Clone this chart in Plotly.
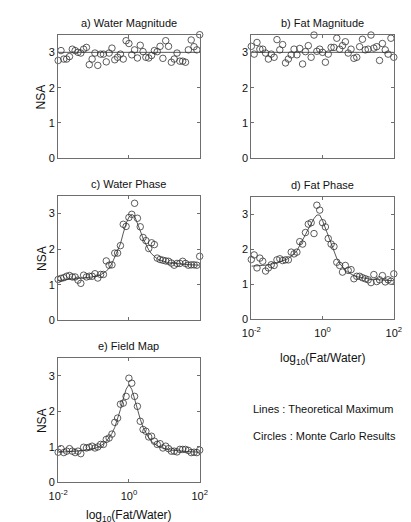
import numpy as np
import plotly.graph_objects as go

# ---- data ----
log_ratio = [round(-2 + 0.08 * i, 2) for i in range(51)]

water_mag_mc = [2.77, 3.05, 2.81, 2.81, 2.88, 3.09, 3.05, 3.0, 2.98, 3.09, 3.14, 2.65, 2.81, 2.98, 2.63,
                2.95, 2.95, 2.73, 2.98, 3.12, 2.79, 2.86, 2.95, 2.81, 3.33, 3.25, 2.93, 3.07, 2.84, 3.2,
                3.02, 2.86, 2.84, 2.91, 3.05, 3.02, 3.17, 2.83, 3.33, 3.17, 2.72, 2.81, 2.98, 2.75, 2.75,
                2.72, 3.07, 3.35, 3.16, 3.07, 3.5]
water_mag_th = [3.0] * 51

fat_mag_mc = [3.17, 2.95, 3.28, 3.09, 3.09, 2.98, 2.81, 2.95, 2.86, 3.36, 3.07, 3.22, 2.7, 2.81, 2.93,
              3.09, 2.93, 3.11, 2.67, 3.02, 3.19, 2.86, 3.49, 3.03, 3.09, 3.0, 2.72, 2.95, 3.14, 3.14,
              3.4, 3.09, 3.19, 3.3, 2.98, 3.09, 2.83, 2.86, 3.16, 3.37, 3.07, 3.09, 3.49, 3.12, 3.16,
              2.77, 3.25, 3.07, 2.95, 3.4, 2.86]
fat_mag_th = [3.0] * 51

water_ph_mc = [1.15, 1.18, 1.2, 1.24, 1.26, 1.22, 1.22, 1.13, 1.04, 1.27, 1.22, 1.24, 1.24, 1.31, 1.19,
               1.29, 1.29, 1.67, 1.55, 1.56, 1.89, 1.89, 2.1, 2.7, 2.64, 2.89, 2.98, 3.29, 2.87, 2.63,
               2.33, 2.24, 2.02, 2.18, 2.13, 1.75, 1.71, 1.69, 1.67, 1.66, 1.61, 1.55, 1.6, 1.6, 1.66,
               1.6, 1.55, 1.56, 1.56, 1.55, 1.8]
water_ph_th = [1.12, 1.13, 1.14, 1.15, 1.16, 1.17, 1.17, 1.18, 1.19, 1.19, 1.2, 1.21, 1.22, 1.23, 1.25,
               1.28, 1.32, 1.38, 1.47, 1.6, 1.78, 1.95, 2.15, 2.45, 2.72, 2.9, 2.98, 2.93, 2.75, 2.52,
               2.3, 2.12, 1.98, 1.87, 1.79, 1.73, 1.69, 1.66, 1.64, 1.62, 1.61, 1.6, 1.59, 1.58, 1.58,
               1.57, 1.57, 1.56, 1.56, 1.56, 1.55]

fat_ph_mc = [1.71, 1.84, 1.47, 1.75, 1.66, 1.38, 1.47, 1.56, 1.54, 1.7, 1.73, 1.68, 1.7, 1.7, 1.92,
             1.87, 1.92, 2.22, 2.15, 2.48, 2.72, 2.76, 2.45, 3.26, 3.12, 2.76, 2.64, 2.31, 2.15, 2.08,
             1.63, 1.54, 1.35, 1.54, 1.4, 1.42, 1.16, 1.23, 1.23, 1.19, 1.16, 1.13, 1.05, 1.28, 1.08,
             1.13, 1.25, 1.07, 1.13, 1.09, 1.3]
fat_ph_th = [1.52, 1.52, 1.53, 1.53, 1.54, 1.55, 1.56, 1.57, 1.59, 1.61, 1.65, 1.67, 1.7, 1.74, 1.8,
             1.87, 1.96, 2.1, 2.25, 2.42, 2.58, 2.73, 2.88, 2.98, 2.98, 2.82, 2.6, 2.38, 2.15, 1.93,
             1.74, 1.6, 1.49, 1.4, 1.34, 1.29, 1.25, 1.22, 1.2, 1.18, 1.17, 1.16, 1.15, 1.14, 1.13,
             1.13, 1.12, 1.12, 1.11, 1.11, 1.1]

field_mc = [0.85, 0.95, 0.84, 0.88, 0.95, 0.88, 0.84, 0.88, 0.81, 0.99, 0.97, 0.99, 1.02, 0.97, 1.0,
            1.07, 1.07, 1.21, 1.25, 1.36, 1.69, 1.81, 2.2, 2.23, 2.42, 2.93, 2.79, 2.42, 2.14, 1.72,
            1.49, 1.44, 1.28, 1.3, 1.16, 1.07, 1.09, 0.97, 1.02, 0.95, 0.88, 0.88, 0.86, 0.93, 0.93,
            0.93, 0.9, 0.84, 0.85, 0.84, 0.91]
field_th = [0.85, 0.85, 0.86, 0.86, 0.87, 0.87, 0.88, 0.88, 0.89, 0.9, 0.91, 0.92, 0.94, 0.96, 0.99,
            1.03, 1.08, 1.15, 1.25, 1.38, 1.55, 1.78, 2.05, 2.35, 2.62, 2.75, 2.62, 2.35, 2.05, 1.78,
            1.55, 1.38, 1.25, 1.15, 1.08, 1.03, 0.99, 0.96, 0.94, 0.92, 0.91, 0.9, 0.89, 0.88, 0.88,
            0.87, 0.87, 0.86, 0.86, 0.85, 0.85]

titles = ["a) Water Magnitude", "b) Fat Magnitude", "c) Water Phase", "d) Fat Phase", "e) Field Map"]
y_ticks = [0, 1, 2, 3]
x_tickvals = [0.01, 1, 100]
x_ticktext = ["10<sup>-2</sup>", "10<sup>0</sup>", "10<sup>2</sup>"]
legend_lines = ["Lines : Theoretical Maximum", "Circles : Monte Carlo Results"]

# ---- layout ----
W, H = 411, 522
def px(v):
    return v / W
def py(v):
    return 1 - v / H

panels = [
    # (axis number, x px range, y px range (top,bottom), mc, th, show y label, show x ticks, xlabel y px)
    (1, (42, 190), (27, 152), water_mag_mc, water_mag_th, True, False, None),
    (2, (244, 393), (27, 152), fat_mag_mc, fat_mag_th, False, False, None),
    (3, (42, 190), (190, 316), water_ph_mc, water_ph_th, True, False, None),
    (4, (244, 393), (191, 315), fat_ph_mc, fat_ph_th, False, True, 355),
    (5, (42, 190), (354, 480), field_mc, field_th, True, True, 514),
]

x_vals = [10 ** v for v in log_ratio]
fig = go.Figure()
axis_col = "#6e6e6e"
font_family = "Liberation Sans, Arial, sans-serif"
annotations = []

for k, (n, xr, yr, mc, th, ylab, xt, xly) in enumerate(panels):
    sfx = "" if n == 1 else str(n)
    fig.add_trace(go.Scatter(x=x_vals, y=th, mode="lines",
                             line=dict(color="#444444", width=0.9),
                             xaxis="x" + sfx, yaxis="y" + sfx, showlegend=False))
    fig.add_trace(go.Scatter(x=x_vals, y=mc, mode="markers",
                             marker=dict(symbol="circle-open", size=6.5,
                                         color="#333333", line=dict(width=0.8, color="#333333")),
                             cliponaxis=False,
                             xaxis="x" + sfx, yaxis="y" + sfx, showlegend=False))
    xa = dict(domain=[px(xr[0]), px(xr[1])], type="log", range=[-2, 2],
              anchor="y" + sfx, showline=True, linecolor=axis_col, linewidth=1,
              mirror="ticks", ticks="inside", ticklen=3, tickcolor=axis_col,
              tickvals=x_tickvals, ticktext=x_ticktext, showticklabels=xt,
              ticklabelstandoff=3,
              showgrid=False, zeroline=False,
              tickfont=dict(size=11, color="#111", family=font_family))
    ya = dict(domain=[py(yr[1]), py(yr[0])], range=[0, 3.5],
              anchor="x" + sfx, showline=True, linecolor=axis_col, linewidth=1,
              mirror="ticks", ticks="inside", ticklen=3, tickcolor=axis_col,
              tickvals=y_ticks, showgrid=False, zeroline=False,
              tickfont=dict(size=11, color="#111", family=font_family))
    fig.update_layout(**{"xaxis" + sfx: xa, "yaxis" + sfx: ya})
    cx = (px(xr[0]) + px(xr[1])) / 2
    annotations.append(dict(text=titles[k], x=cx, y=py(yr[0] - 12), xref="paper", yref="paper",
                            showarrow=False, xanchor="center", yanchor="middle",
                            font=dict(size=11, color="#111", family=font_family)))
    if ylab:
        annotations.append(dict(text="NSA", x=px(25), y=py((yr[0] + yr[1]) / 2), xref="paper",
                                yref="paper", showarrow=False, textangle=-90,
                                xanchor="center", yanchor="middle",
                                font=dict(size=12, color="#111", family=font_family)))
    if xly is not None:
        annotations.append(dict(text="log<sub>10</sub>(Fat/Water)", x=cx, y=py(xly),
                                xref="paper", yref="paper", showarrow=False,
                                xanchor="center", yanchor="middle",
                                font=dict(size=12, color="#111", family=font_family)))

for j, t in enumerate(legend_lines):
    annotations.append(dict(text=t, x=px(244), y=py(406 + 27 * j), xref="paper", yref="paper",
                            showarrow=False, xanchor="left", yanchor="middle",
                            font=dict(size=11, color="#111", family=font_family)))

fig.update_layout(width=W, height=H, margin=dict(l=0, r=0, t=0, b=0),
                  paper_bgcolor="white", plot_bgcolor="white",
                  annotations=annotations, font=dict(family=font_family))

fig.write_html("out.html")
